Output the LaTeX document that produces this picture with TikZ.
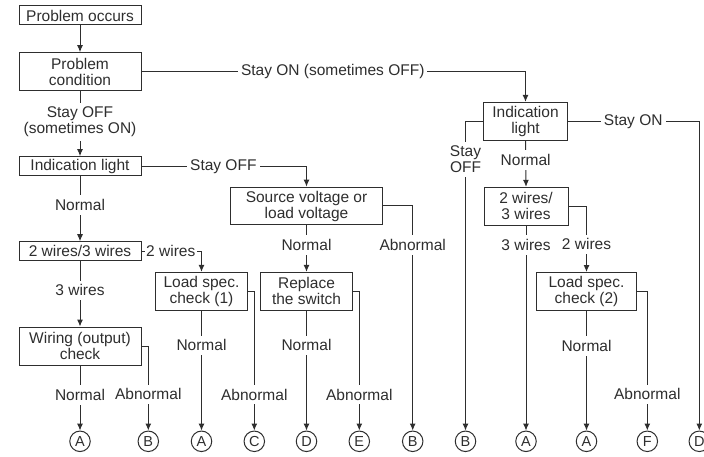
\documentclass[tikz,border=0pt]{standalone}
\usepackage{fontspec}
\setmainfont{Liberation Sans}
\usetikzlibrary{arrows.meta}
\definecolor{ink}{gray}{0.18}
\begin{document}
\begin{tikzpicture}[x=1pt,y=-1pt,
  txt/.style={text=ink, font=\fontsize{15.5}{16}\selectfont},
  box/.style={txt, draw=ink, line width=1pt, align=center, inner sep=0pt},
  lbl/.style={txt, fill=white, align=center, inner xsep=3pt, inner ysep=4pt},
  term/.style={circle, draw=ink, line width=1pt, minimum size=20.5pt, inner sep=0pt, text=ink, font=\fontsize{14.5}{14.5}\selectfont},
  conn/.style={draw=ink, line width=1pt, -{Latex[length=7pt,width=6pt]}}
]
\useasboundingbox (0,0) rectangle (704,457);

% boxes
\node[box, minimum width=122pt, minimum height=19pt] (po) at (80,15.5) {Problem occurs};
\node[box, minimum width=122pt, minimum height=38pt] (pc) at (80,71.7) {Problem\\condition};
\node[box, minimum width=122pt, minimum height=19pt] (il) at (80,166.2) {Indication light};
\node[box, minimum width=122pt, minimum height=18.5pt] (w23) at (80,251) {2 wires/3 wires};
\node[box, minimum width=122pt, minimum height=38pt] (wc) at (80,346) {Wiring (output)\\check};
\node[box, minimum width=151.6pt, minimum height=37.7pt] (sv) at (306.5,206) {Source voltage or\\load voltage};
\node[box, minimum width=91.6pt, minimum height=37.7pt] (ls1) at (201.5,291.2) {Load spec.\\check (1)};
\node[box, minimum width=91.6pt, minimum height=37.7pt] (rs) at (306.5,291.2) {Replace\\the switch};
\node[box, minimum width=84.4pt, minimum height=37.7pt] (il2) at (525.5,121.2) {Indication\\light};
\node[box, minimum width=84pt, minimum height=37.7pt] (w23b) at (526,206.2) {2 wires/\\3 wires};
\node[box, minimum width=100pt, minimum height=38pt] (ls2) at (586.5,291.5) {Load spec.\\check (2)};

% terminals
\node[term] (cA1) at (80,441.3) {A};
\node[term] (cB1) at (148.3,441.3) {B};
\node[term] (cA2) at (201.5,441.3) {A};
\node[term] (cC) at (254.3,441.3) {C};
\node[term] (cD) at (306.5,441.3) {D};
\node[term] (cE) at (359.3,441.3) {E};
\node[term] (cB2) at (412.7,441.3) {B};
\node[term] (cB3) at (465.5,441.3) {B};
\node[term] (cA3) at (526,441.3) {A};
\node[term] (cA4) at (586.5,441.3) {A};
\node[term] (cF) at (647.3,441.3) {F};
\node[term] (cD2) at (699.3,441.3) {D};

% connectors
\draw[conn] (po) -- (pc);
\draw[conn] (pc.east) -| node[lbl, pos=0.249] {Stay ON (sometimes OFF)} (il2.north);
\draw[conn] (pc.south) -- node[lbl, pos=0.47] {Stay OFF\\(sometimes ON)} (il.north);
\draw[conn] (il.east) -| node[lbl, pos=0.248] {Stay OFF} (sv.north);
\draw[conn] (il.south) -- node[lbl, pos=0.44] {Normal} (w23.north);
\draw[conn] (w23.east) -| node[lbl, pos=0.244, inner xsep=1.5pt] {2 wires} (ls1.north);
\draw[conn] (w23.south) -- node[lbl, pos=0.45] {3 wires} (wc.north);
\draw[conn] (wc.south) -- node[lbl, pos=0.453] {Normal} (cA1.north);
\draw[conn] (wc.east) -| node[lbl, pos=0.786] {Abnormal} (cB1.north);
\draw[conn] (ls1.south) -- node[lbl, pos=0.29] {Normal} (cA2.north);
\draw[conn] (ls1.east) -| node[lbl, pos=0.871] {Abnormal} (cC.north);
\draw[conn] (sv.south) -- node[lbl, pos=0.42] {Normal} (rs.north);
\draw[conn] (sv.east) -| node[lbl, pos=0.587] {Abnormal} (cB2.north);
\draw[conn] (rs.south) -- node[lbl, pos=0.29] {Normal} (cD.north);
\draw[conn] (rs.east) -| node[lbl, pos=0.871] {Abnormal} (cE.north);
\draw[conn] (il2.west) -| node[lbl, pos=0.562] {Stay\\OFF} (cB3.north);
\draw[conn] (il2.east) -| node[lbl, pos=0.248] {Stay ON} (cD2.north);
\draw[conn] (il2.south) -- node[lbl, pos=0.423] {Normal} (w23b.north);
\draw[conn] (w23b.south) -- node[lbl, pos=0.094] {3 wires} (cA3.north);
\draw[conn] (w23b.east) -| node[lbl, pos=0.789] {2 wires} (ls2.north);
\draw[conn] (ls2.south) -- node[lbl, pos=0.293] {Normal} (cA4.north);
\draw[conn] (ls2.east) -| node[lbl, pos=0.870] {Abnormal} (cF.north);
\end{tikzpicture}
\end{document}
